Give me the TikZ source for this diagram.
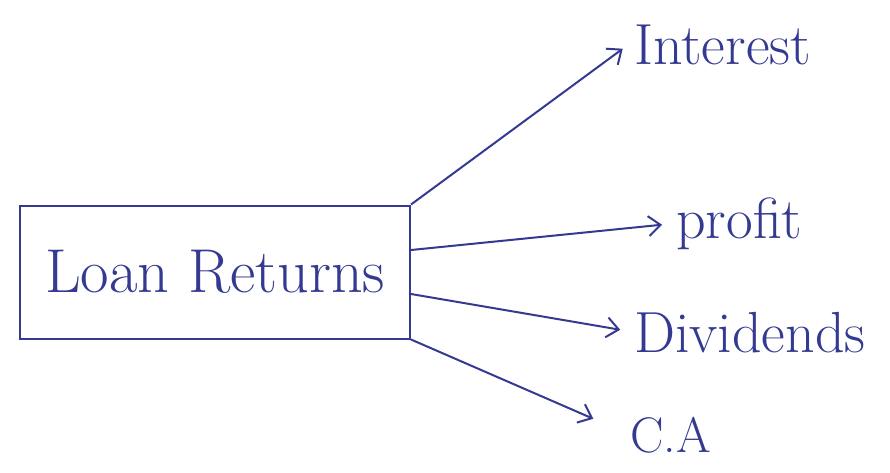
\documentclass[tikz,border=0pt]{standalone}
\usepackage{fontspec}
\usetikzlibrary{arrows.meta}
\definecolor{ink}{RGB}{52,58,145}
\tikzset{
  loanbox/.style={draw=ink, line width=2pt, minimum width=390pt, minimum height=133pt, text=ink, font=\fontsize{62}{70}\selectfont},
  lbl/.style={anchor=base west, text=ink, font=\fontsize{58}{64}\selectfont, inner sep=0pt},
  arr/.style={-{Straight Barb[length=12pt,width=20pt]}, draw=ink, line width=2pt, shorten >=14pt}
}
\begin{document}
\begin{tikzpicture}[x=1pt,y=-1pt]
\useasboundingbox (0,0) rectangle (890,472);

% main box
\node[loanbox] (box) at (215,272) {Loan Returns};

% labels
\node[lbl] (int) at (634,64) {Interest};
\node[lbl] (prof) at (676,238) {profit};
\node[lbl] (div) at (634,352) {Dividends};
\node[lbl, font=\fontsize{50}{56}\selectfont] (ca) at (630,452) {C.A};

% arrows out of the box
\draw[arr] (box.north east) -- ([yshift=4pt]int.west);
\draw[arr] ([yshift=22pt]box.east) -- (prof.west);
\draw[arr] ([yshift=-22pt]box.east) -- (div.west);
\draw[arr, shorten >=40pt] (box.south east) -- (ca.west);

\end{tikzpicture}
\end{document}
